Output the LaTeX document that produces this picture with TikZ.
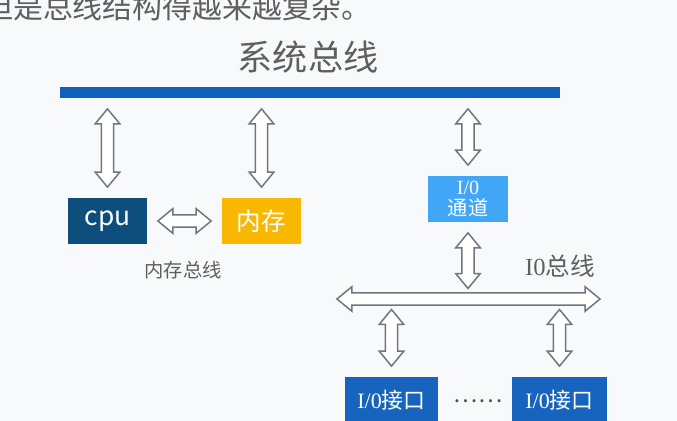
\documentclass[tikz,border=0pt]{standalone}
\usepackage{fontspec}
\setmainfont{Noto Sans CJK SC}
\newfontfamily\serifio{Liberation Serif}
\usetikzlibrary{arrows.meta,positioning,calc}
\definecolor{bgwhite}{RGB}{248,249,250}
\definecolor{busblue}{RGB}{16,96,190}
\definecolor{cpublue}{RGB}{14,78,125}
\definecolor{memyellow}{RGB}{248,183,0}
\definecolor{chanblue}{RGB}{64,166,245}
\definecolor{ifblue}{RGB}{22,100,190}
\definecolor{linegray}{RGB}{110,118,126}
\definecolor{labelgray}{RGB}{95,95,95}
\tikzset{
  unit/.style={rectangle, minimum width=1.58cm, minimum height=0.92cm, inner sep=0pt,
               text=white, align=center},
  lbl/.style={text=labelgray, inner sep=0pt},
  arrgap/.store in=\arrgap, arrgap=6pt,
  harrow/.style={draw=linegray, fill=white, line width=0.85pt, line join=miter,
    to path={let \p1=($(\tikztotarget)-(\tikztostart)$), \n1={atan2(\y1,\x1)},
                 \n2={veclen(\x1,\y1)} in
      {[shift={(\tikztostart)}, rotate=\n1]
        ({\arrgap},0pt) -- ({\arrgap+8.5pt},7pt) -- ({\arrgap+8.5pt},3.5pt)
        -- ({\n2*1pt-\arrgap-8.5pt},3.5pt) -- ({\n2*1pt-\arrgap-8.5pt},7pt)
        -- ({\n2*1pt-\arrgap},0pt) -- ({\n2*1pt-\arrgap-8.5pt},-7pt)
        -- ({\n2*1pt-\arrgap-8.5pt},-3.5pt) -- ({\arrgap+8.5pt},-3.5pt)
        -- ({\arrgap+8.5pt},-7pt) -- cycle}}}
}

\begin{document}
\begin{tikzpicture}[x=0.02cm, y=-0.02cm]
  \fill[bgwhite] (0,0) rectangle (677,421);
  \useasboundingbox (0,0) rectangle (677,421);
  % slide text, cut off at the top
  \node[lbl, anchor=west, font=\fontsize{17pt}{20pt}\selectfont] (note) at (-17,7)
    {但是总线结构得越来越复杂。};
  \node[lbl, font=\fontsize{20pt}{24pt}\selectfont] (title) at (308,57) {系统总线};
  \node[fill=busblue, minimum width=10cm, minimum height=0.22cm, inner sep=0pt] (sysbus)
    at (310,92.5) {};
  % cpu and memory
  \node[unit, fill=cpublue, font=\fontsize{15pt}{17pt}\selectfont] (cpu) at (107.5,221) {cpu};
  \node[unit, fill=memyellow, font=\fontsize{14pt}{16pt}\selectfont] (mem) at (261.5,221) {内存};
  \node[lbl, font=\fontsize{11pt}{13pt}\selectfont] (membus) at (183,270) {内存总线};
  % io side
  \node[unit, fill=chanblue, minimum width=1.6cm, font=\fontsize{11.5pt}{12.5pt}\selectfont] (chan)
    at (468,199) {{\serifio I/0}\\通道};
  \node[lbl, font=\fontsize{14pt}{16pt}\selectfont] (iobus) at (560,266) {{\serifio I0}总线};
  \coordinate (busL) at (337,299);
  \coordinate (busR) at (600,299);
  \node[unit, fill=ifblue, minimum width=1.86cm, font=\fontsize{12.5pt}{14pt}\selectfont] (if1)
    at (391.5,400) {{\serifio I/0}接口};
  \node[unit, fill=ifblue, minimum width=1.9cm, font=\fontsize{12.5pt}{14pt}\selectfont] (if2)
    at (559.5,400) {{\serifio I/0}接口};
  \node[lbl, text=black!70, font=\fontsize{13pt}{15pt}\selectfont] (dots) at (478,401) {……};

  \draw[harrow] (cpu.north |- sysbus.south) to (cpu.north);
  \draw[harrow] (mem.north |- sysbus.south) to (mem.north);
  \draw[harrow] (chan.north |- sysbus.south) to (chan.north);
  \draw[harrow] (cpu.east) to (mem.west);
  \draw[harrow] (chan.south) to (chan.south |- busL);
  \draw[harrow, arrgap=0pt] (busL) to (busR);
  \draw[harrow] (if1.north |- busL) to (if1.north);
  \draw[harrow] (if2.north |- busL) to (if2.north);
\end{tikzpicture}
\end{document}
